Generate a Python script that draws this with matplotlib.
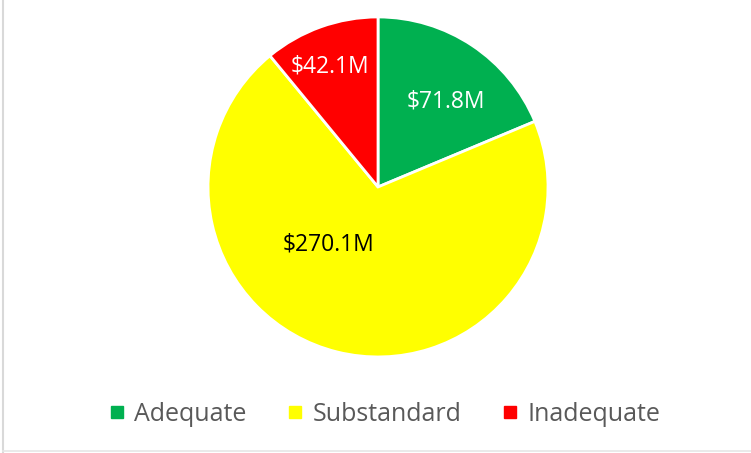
import matplotlib.pyplot as plt
from matplotlib.lines import Line2D

plt.rcParams['font.family'] = ['Open Sans', 'DejaVu Sans']

# data
categories = ['Adequate', 'Substandard', 'Inadequate']
values = [71.8, 270.1, 42.1]
colors = ['#00B050', '#FFFF00', '#FF0000']
label_colors = ['white', 'black', 'white']
# label positions (fraction of radius), roughly where the original put them
label_pos = [(0.40, 0.50), (-0.29, -0.34), (-0.28, 0.71)]

fig = plt.figure(figsize=(7.51, 4.53), dpi=100)
ax = fig.add_axes([0.277, 0.212, 0.4527, 0.7506])

wedges, _ = ax.pie(values, colors=colors, startangle=90, counterclock=False,
                   radius=1, wedgeprops=dict(edgecolor='white', linewidth=2))
ax.set_xlim(-1, 1)
ax.set_ylim(-1, 1)
ax.set_aspect('equal')

for v, (x, y), c in zip(values, label_pos, label_colors):
    ax.text(x, y, f'${v:.1f}M', ha='center', va='center', fontsize=16.5, color=c)

# legend
handles = [Line2D([], [], marker='s', linestyle='none', markersize=8,
                  markerfacecolor=c, markeredgecolor=c) for c in colors]
fig.legend(handles, categories, loc='center', bbox_to_anchor=(0.51, 0.086),
           ncol=3, frameon=False, fontsize=18, labelcolor='#595959',
           handletextpad=0.25, columnspacing=1.5, handlelength=0.9)

# frame lines on left and bottom
fig.add_artist(Line2D([0.004, 0.004], [0.0, 1.0], color='#d9d9d9', linewidth=1.5,
                      transform=fig.transFigure))
fig.add_artist(Line2D([0.004, 1.0], [0.004, 0.004], color='#e6e6e6', linewidth=1.2,
                      transform=fig.transFigure))

plt.savefig('out.png', dpi=100)
